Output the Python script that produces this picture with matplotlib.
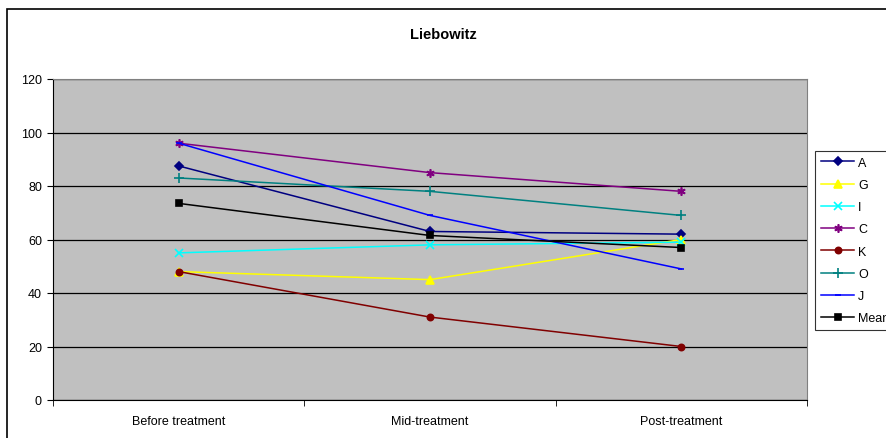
import matplotlib.pyplot as plt
from matplotlib.patches import Rectangle

# data
categories = ["Before treatment", "Mid-treatment", "Post-treatment"]
series_names = ["A", "G", "I", "C", "K", "O", "J", "Mean"]
A = [87.5, 63, 62]
G = [48, 45, 60]
I = [55, 58, 59]
C = [96, 85, 78]
K = [48, 31, 20]
O = [83, 78, 69]
J = [96, 69, 49]
Mean = [73.5, 61.5, 57]
yticks = [0, 20, 40, 60, 80, 100, 120]

series = [A, G, I, C, K, O, J, Mean]
colors = ["#000080", "#FFFF00", "#00FFFF", "#800080", "#800000",
          "#008080", "#0000FF", "#000000"]
markers = ["D", "^", "x", (6, 2, 0), "o", "+", "_", "s"]
msizes = [4, 5.5, 5.5, 6, 4.5, 6.5, 5, 4.5]

fig = plt.figure(figsize=(8.86, 4.39), dpi=100)
plt.rcParams["font.family"] = ["Liberation Sans", "DejaVu Sans"]

# outer chart frame (runs off the right/bottom edge)
fig.patches.append(Rectangle((7 / 886, -0.05), 1.0, 1 - 10 / 439 + 0.05,
                             transform=fig.transFigure, fill=False,
                             edgecolor="black", linewidth=1.2))

ax = fig.add_axes([53 / 886, 1 - 401 / 439, (807 - 53) / 886, (401 - 80) / 439])
ax.set_facecolor("#C0C0C0")

x = list(range(len(categories)))
for name, vals, c, m, ms in zip(series_names, series, colors, markers, msizes):
    ax.plot(x, vals, color=c, marker=m, markersize=ms, linewidth=1.1,
            markeredgecolor=c, markerfacecolor=c, markeredgewidth=1.2,
            label=name, zorder=3)

ax.set_xlim(-0.5, 2.5)
ax.set_ylim(0, 120)
ax.set_yticks(yticks)
ax.set_xticks(x)
ax.set_xticklabels(categories)
ax.set_xticks([-0.5, 0.5, 1.5, 2.5], minor=True)
ax.tick_params(axis="x", which="major", length=0, pad=11, labelsize=9)
ax.tick_params(axis="x", which="minor", length=4, direction="out")
ax.tick_params(axis="y", length=4, direction="out", labelsize=9, pad=4)
ax.grid(axis="y", color="black", linewidth=0.9, zorder=1)
ax.set_axisbelow(True)
for side in ["top", "right"]:
    ax.spines[side].set_color("#808080")
for side in ["left", "bottom"]:
    ax.spines[side].set_color("black")

fig.text(0.5, 1 - 35 / 439, "Liebowitz", ha="center", va="center",
         fontsize=10.5, fontweight="bold")

# legend sits partly outside the figure, as in the reference
leg = fig.legend(loc="upper left", bbox_to_anchor=(815 / 886, 1 - 152 / 439),
                 fontsize=9, frameon=True, fancybox=False, edgecolor="black",
                 labelspacing=0.82, handlelength=2.7, handletextpad=0.3,
                 borderpad=0.45, borderaxespad=0)
leg.get_frame().set_linewidth(0.8)

fig.savefig("out.png", dpi=100)
